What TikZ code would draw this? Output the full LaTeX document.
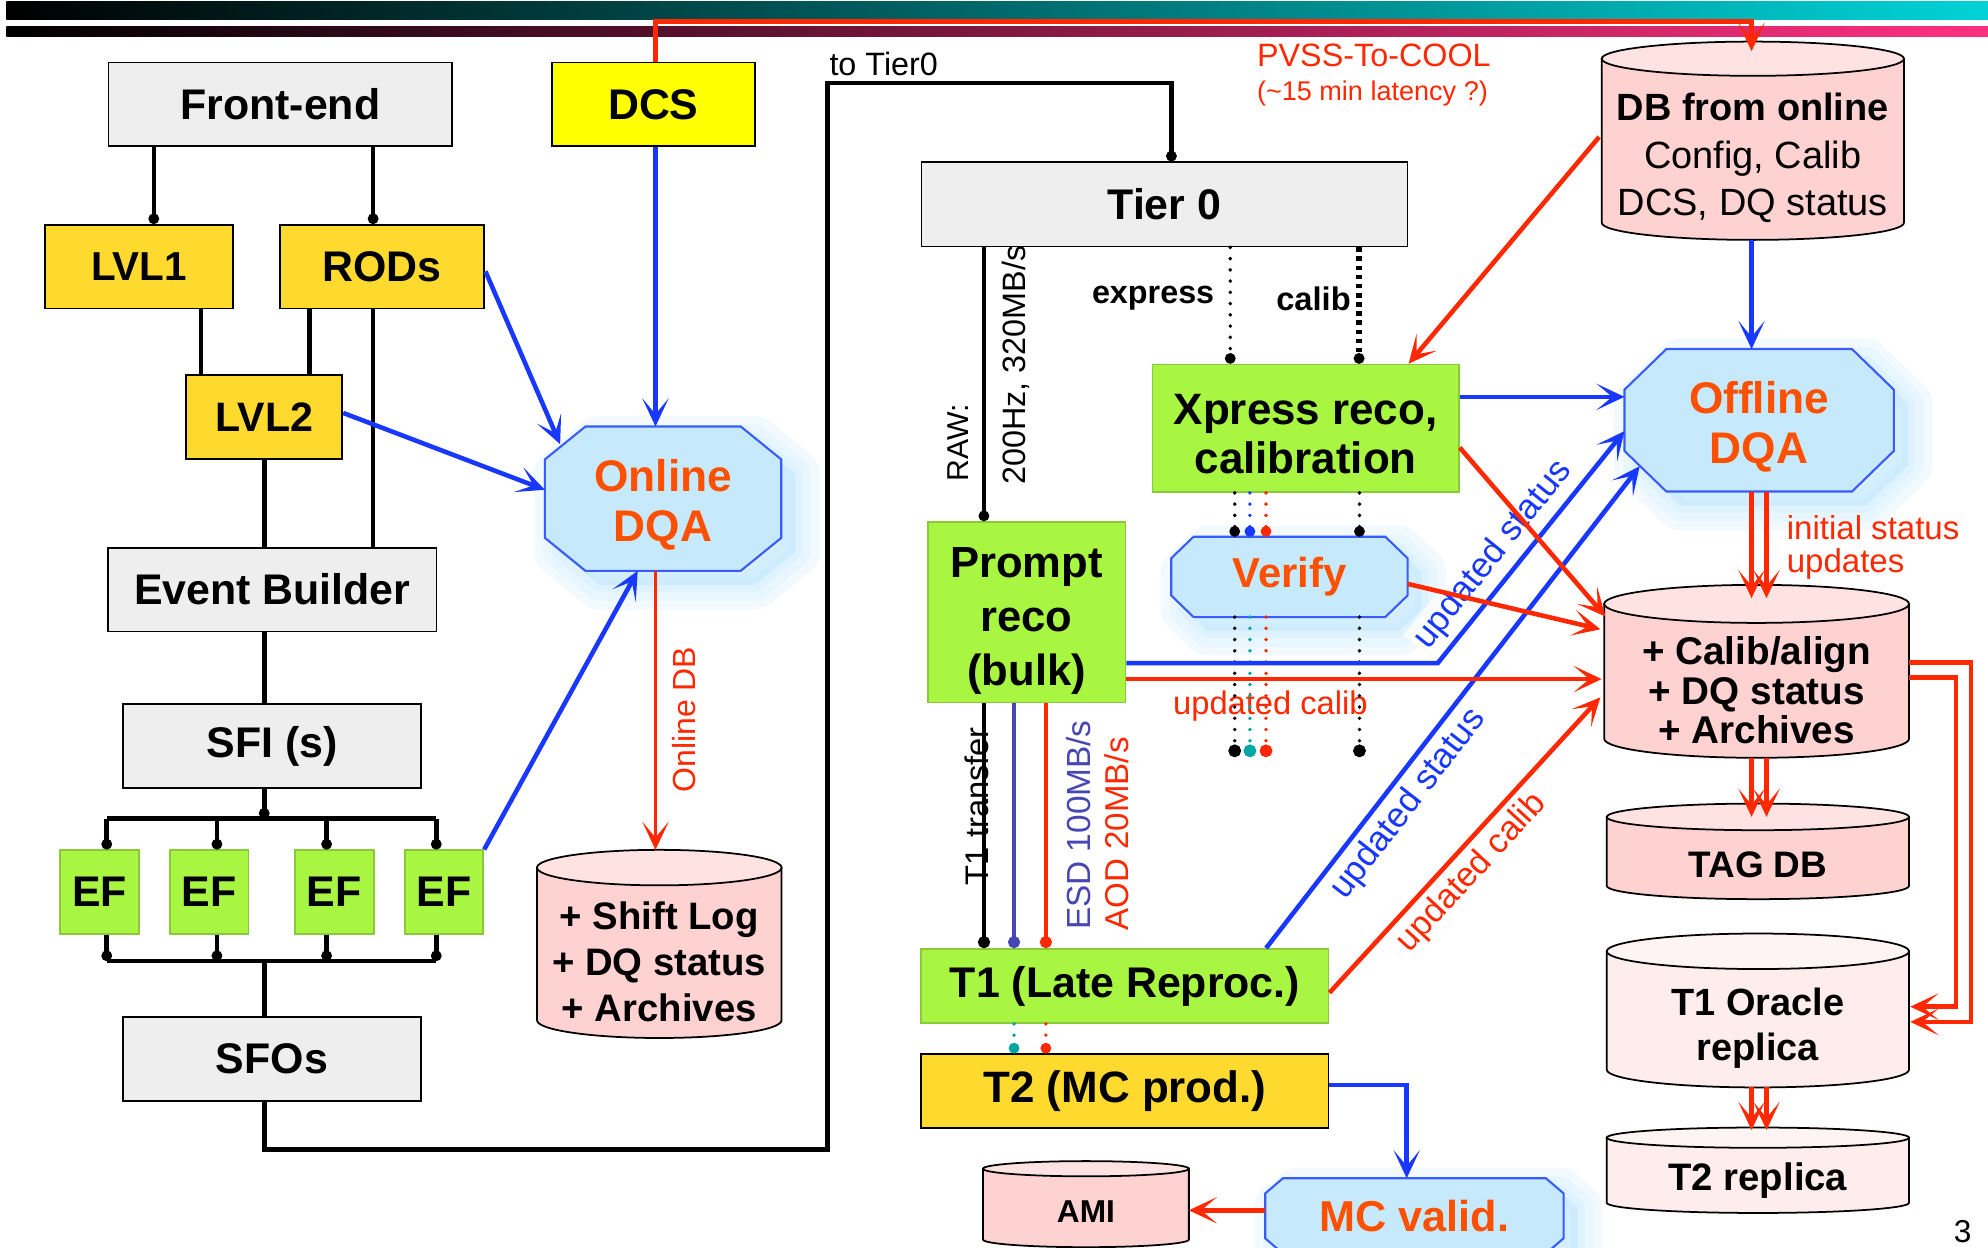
\documentclass[tikz,border=0pt]{standalone}
\usepackage{fontspec}
\setmainfont{Liberation Sans}
\usepackage{tikz}
\usetikzlibrary{arrows.meta}
\usetikzlibrary{calc}
\usepackage{xcolor}
\definecolor{boxGrey}{HTML}{EEEEEE}
\definecolor{boxGold}{HTML}{FFDA2E}
\definecolor{dcsYellow}{HTML}{FFFF00}
\definecolor{boxGreen}{HTML}{A8F542}
\definecolor{greenEdge}{HTML}{8CC83C}
\definecolor{arrowBlue}{HTML}{1838FF}
\definecolor{arrowRed}{HTML}{FF2800}
\definecolor{esdBlue}{HTML}{4646B4}
\definecolor{dotTeal}{HTML}{00A5A5}
\definecolor{dqaOrange}{HTML}{FF5000}
\definecolor{dqaFill}{HTML}{C6EAFC}
\definecolor{dqaEdge}{HTML}{3A5CFF}
\definecolor{dqaGlow}{HTML}{BEE6FF}
\definecolor{dbPink}{HTML}{FFD2D2}
\definecolor{dbLid}{HTML}{FFE2E2}
\definecolor{dbPale}{HTML}{FFEDED}
\definecolor{dbPaleLid}{HTML}{FFF4F4}
\definecolor{barTeal}{HTML}{00D2D6}
\definecolor{barPink}{HTML}{FF3080}

\pgfdeclarelayer{bg}
\pgfsetlayers{bg,main}

% fonts
\newcommand\fntBox{\bfseries\fontsize{12.2}{14}\selectfont}
\newcommand\fntTwo{\bfseries\fontsize{12.5}{14.1}\selectfont}
\newcommand\fntPrompt{\bfseries\fontsize{12.4}{15.3}\selectfont}
\newcommand\fntDqa{\bfseries\fontsize{12.6}{14.2}\selectfont}
\newcommand\fntNote{\fontsize{9.2}{11}\selectfont}
% taller first line, pushes a stacked label down a little
\newcommand\lift[1]{\rule{0pt}{#1}}

\tikzset{
  wh/.style 2 args={minimum width=#1*0.3608pt, minimum height=#2*0.3608pt},
  base/.style={inner sep=0pt, align=center, line width=0.5pt},
  greybox/.style={base, draw=black, fill=boxGrey, font=\fntBox},
  goldbox/.style={base, draw=black, fill=boxGold, font=\fntBox},
  dcsbox/.style={base, draw=black, fill=dcsYellow, font=\fntBox},
  greenbox/.style={base, draw=greenEdge, fill=boxGreen, font=\fntBox},
  dqatext/.style={base, text=dqaOrange, font=\fntDqa},
  dbtext/.style={base, font=\bfseries\fontsize{10.9}{13}\selectfont},
  note/.style={inner sep=1pt, font=\fntNote},
  slopelbl/.style={inner sep=1pt, font=\fontsize{10}{11}\selectfont,
    fill=white, fill opacity=0.75, text opacity=1},
  wire/.style={line width=1.3pt},
  dotend/.style={-{Circle[length=3pt]}},
  blueflow/.style={draw=arrowBlue, line width=1.3pt,
    -{Stealth[length=8pt, width=7.5pt, inset=4.5pt]}},
  redflow/.style={draw=arrowRed, line width=1.3pt,
    -{Stealth[length=8pt, width=7.5pt, inset=4.5pt]}},
  finedots/.style={line width=1.1pt, line cap=round, dash pattern=on 0pt off 3.2pt},
  calibdots/.style={line width=1.5pt, dash pattern=on 1.3pt off 1.3pt},
}

% database drum behind a node: body, bottom arc and lid
\newcommand\dbdrum[4]{%
  \path[draw=black, line width=0.5pt, fill=#2]
    let \p1=(#1.north west), \p2=(#1.south east), \n1={(\x2-\x1)/2}, \n2={#4*0.3608pt} in
    (\x1,\y1+\n2) -- (\x1,\y2+\n2)
    arc[start angle=180, end angle=360, x radius=\n1, y radius=\n2]
    -- (\x2,\y1+\n2) -- cycle;
  \path[draw=black, line width=0.5pt, fill=#3]
    let \p1=(#1.north west), \p2=(#1.south east), \n1={(\x2-\x1)/2}, \n2={#4*0.3608pt} in
    (\x1+\n1,\y1+\n2) ellipse[x radius=\n1, y radius=\n2];
}

% chamfered DQA plate with a soft halo
\newcommand\dqaplate[3]{%
  \path let \p1=(#1.north west), \p2=(#1.south east), \n1={#2*0.3608pt}, \n2={#3*0.3608pt} in
    coordinate (#1-1) at (\x1+\n1,\y1) coordinate (#1-2) at (\x2-\n1,\y1)
    coordinate (#1-3) at (\x2,\y1-\n2) coordinate (#1-4) at (\x2,\y2+\n2)
    coordinate (#1-5) at (\x2-\n1,\y2) coordinate (#1-6) at (\x1+\n1,\y2)
    coordinate (#1-7) at (\x1,\y2+\n2) coordinate (#1-8) at (\x1,\y1-\n2);
  \begin{scope}[transform canvas={shift={(4pt,-4pt)}}]
    \foreach \w in {14,9,4}
      \draw[dqaGlow, line width=\w pt, line join=round, draw opacity=0.2,
        fill=dqaGlow, fill opacity=0.2]
        (#1-1) -- (#1-2) -- (#1-3) -- (#1-4) -- (#1-5) -- (#1-6) -- (#1-7) -- (#1-8) -- cycle;
  \end{scope}
  \draw[draw=dqaEdge, line width=0.6pt, fill=dqaFill]
    (#1-1) -- (#1-2) -- (#1-3) -- (#1-4) -- (#1-5) -- (#1-6) -- (#1-7) -- (#1-8) -- cycle;
}

\begin{document}
\begin{tikzpicture}[x=0.01268cm, y=-0.01268cm]
\useasboundingbox (0,0) rectangle (1568,984);

%%%%%%%%%%%%%%%%%%%%%%%%%%%%%%%%%%%%%%%%%%%%%%%%%%%%%%%%%%%%%% Header bars
\shade[left color=black, right color=barTeal] (5,1.3) rectangle (1568,15.2);
\shade[left color=black, right color=barPink] (5,21) rectangle (1568,29);

%%%%%%%%%%%%%%%%%%%%%%%%%%%%%%%%%%%%%%%%%%%%%%%%%%%%%%%%%%%%%% Online chain
\node[greybox, wh={271}{66}] (frontend) at (221,82.3) {Front-end};
\node[dcsbox, wh={160}{66}] (dcs) at (515.3,82.3) {DCS};
\node[goldbox, wh={148.5}{66}, font=\bfseries\fontsize{11.5}{14}\selectfont] (lvlone) at (109.6,210.4) {LVL1};
\node[goldbox, wh={160.6}{66}] (rods) at (301.2,210.4) {RODs};
\node[goldbox, wh={123}{66.6}, font=\bfseries\fontsize{11.7}{14}\selectfont] (lvltwo) at (208.5,329) {LVL2};
\node[greybox, wh={259}{66}] (evb) at (214.8,465) {Event Builder};
\node[greybox, wh={235}{66.3}] (sfi) at (214.5,588.6) {SFI (s)};
\foreach \x [count=\i] in {78.5,165,263.7,350.2}
  \node[greenbox, wh={62}{66}] (ef\i) at (\x,703.7) {EF};
\node[greybox, wh={235}{66}] (sfos) at (214.5,835.3) {SFOs};

\node[dqatext, wh={185}{112.5}] (onldqa) at (523,393.3) {\lift{12.4pt}Online\\DQA};
\node[dbtext, wh={191.5}{119}] (shiftlog) at (520,758.5) {+ Shift Log\\+ DQ status\\+ Archives};

%%%%%%%%%%%%%%%%%%%%%%%%%%%%%%%%%%%%%%%%%%%%%%%%%%%%%%%%%%%%%% Tier 0 and below
\node[greybox, wh={383.3}{66.4}] (tierzero) at (918.4,161.2) {Tier 0};
\node[greenbox, wh={241.7}{100.5}, font=\fntTwo] (xpress) at (1029.8,337.8) {\lift{12pt}Xpress reco,\\calibration};
\node[greenbox, wh={155.9}{142.3}, font=\fntPrompt] (prompt) at (809.7,482.9) {\lift{13.4pt}Prompt\\reco\\(bulk)};
\node[dqatext, wh={185}{62}, font=\bfseries\fontsize{11.9}{14}\selectfont] (verify) at (1017,455) {Verify};
\node[greenbox, wh={321.2}{58.4}] (tone) at (887.3,777.7) {T1 (Late Reproc.)};
\node[goldbox, wh={321.2}{58}, font=\bfseries\fontsize{12.5}{14}\selectfont] (ttwo) at (887.3,860.6) {T2 (MC prod.)};
\node[dqatext, wh={234}{58}, font=\bfseries\fontsize{12.3}{14}\selectfont] (mcvalid) at (1115.6,959) {MC valid.};
\node[dbtext, wh={161}{54.5}, font=\bfseries\fontsize{9}{11}\selectfont] (ami) at (856.5,955.75) {AMI};

%%%%%%%%%%%%%%%%%%%%%%%%%%%%%%%%%%%%%%%%%%%%%%%%%%%%%%%%%%%%%% Offline databases
\node[dbtext, wh={237}{128}, font=\fontsize{10.8}{13.4}\selectfont] (dbonline) at (1382.5,124.5)
  {\textbf{DB from online}\\Config, Calib\\DCS, DQ status};
\node[dqatext, wh={211}{111}] (offdqa) at (1387.5,331.5) {\lift{12.6pt}Offline\\DQA};
\node[dbtext, wh={239}{105}, font=\bfseries\fontsize{11}{11.2}\selectfont] (calibdb) at (1385.5,544.5)
  {+ Calib/align\\+ DQ status\\+ Archives};
\node[dbtext, wh={237}{53}, font=\bfseries\fontsize{10.5}{12}\selectfont] (tagdb) at (1386.5,682) {TAG DB};
\node[dbtext, wh={237}{92}, font=\bfseries\fontsize{10.8}{12.8}\selectfont] (toracle) at (1386.5,811) {T1 Oracle\\replica};
\node[dbtext, wh={237}{50}] (trep) at (1386.5,931) {T2 replica};

%%%%%%%%%%%%%%%%%%%%%%%%%%%%%%%%%%%%%%%%%%%%%%%%%%%%%%%%%%%%%% Shapes behind the text
\begin{pgfonlayer}{bg}
  \dqaplate{onldqa}{32}{26}
  \dqaplate{verify}{17.6}{17}
  \dqaplate{offdqa}{33}{32}
  \dqaplate{mcvalid}{14}{12}
  \dbdrum{shiftlog}{dbPink}{dbLid}{14}
  \dbdrum{ami}{dbPink}{dbLid}{6}
  \dbdrum{dbonline}{dbPink}{dbLid}{13.5}
  \dbdrum{calibdb}{dbPink}{dbLid}{15}
  \dbdrum{tagdb}{dbPink}{dbLid}{10.5}
  \dbdrum{toracle}{dbPale}{dbPaleLid}{14}
  \dbdrum{trep}{dbPale}{dbPaleLid}{8}
\end{pgfonlayer}

%%%%%%%%%%%%%%%%%%%%%%%%%%%%%%%%%%%%%%%%%%%%%%%%%%%%%%%%%%%%%% Labels
\node[note] (totier) at (697,50.5) {to Tier0};
\node[note, text=arrowRed] (pvss) at (1083.6,43.4) {PVSS-To-COOL};
\node[note, text=arrowRed, font=\fontsize{7.7}{9}\selectfont] (latency) at (1082.5,73.6) {(\textasciitilde15 min latency ?)};
\node[note, rotate=90, text=arrowRed, font=\fontsize{9.1}{11}\selectfont] (onldb) at (539.7,567.5) {Online DB};
\node[note, rotate=90, font=\fontsize{8.6}{10}\selectfont] (rawlbl) at (755.5,349.5) {RAW:};
\node[note, rotate=90] (ratelbl) at (801,288) {200Hz, 320MB/s};
\node[note, rotate=90, font=\fontsize{9.3}{11}\selectfont] (tonelbl) at (770.5,635.8) {T1 transfer};
\node[note, rotate=90, text=esdBlue, font=\fontsize{9.5}{11}\selectfont] (esdlbl) at (850.7,650.8) {ESD 100MB/s};
\node[note, rotate=90, text=arrowRed, font=\fontsize{9.4}{11}\selectfont] (aodlbl) at (880.6,657.6) {AOD 20MB/s};
\node[note, font=\bfseries\fontsize{9.2}{11}\selectfont] (expresslbl) at (909.5,235) {express};
\node[note, font=\bfseries\fontsize{9.3}{11}\selectfont] (caliblbl) at (1036,236) {calib};
\node[note, text=arrowRed, font=\fontsize{9.3}{11}\selectfont, fill=white, fill opacity=0.7, text opacity=1]
  (updcalib) at (1002,557) {updated calib};
\node[note, text=arrowRed, align=left, anchor=west, font=\fontsize{9.4}{9.4}\selectfont]
  (initlbl) at (1406,432) {initial status\\updates};
\node[note, font=\fontsize{9}{11}\selectfont] (pagenum) at (1548,971.6) {3};

%%%%%%%%%%%%%%%%%%%%%%%%%%%%%%%%%%%%%%%%%%%%%%%%%%%%%%%%%%%%%% Trigger and DAQ wiring
\coordinate (spine) at (208.4,0);
\coordinate (bustop) at (208.4,645.6);
\coordinate (busbot) at (208.4,758);
\foreach \x [count=\i] in {84.2,171.1,257.6,344.1} {
  \coordinate (drop\i) at (\x,645.6);
  \coordinate (bdrop\i) at (\x,758);
}
\draw[wire, dotend] ($(frontend.south west)+(36.5,0)$) coordinate (a) -- (a |- lvlone.north);
\draw[wire, dotend] ($(frontend.south west)+(209.5,0)$) coordinate (a) -- (a |- rods.north);
\draw[wire] ($(lvlone.south west)+(124,0)$) coordinate (a) -- (a |- lvltwo.north);
\draw[wire] ($(rods.south west)+(24.1,0)$) coordinate (a) -- (a |- lvltwo.north);
\draw[wire] ($(rods.south west)+(74.1,0)$) coordinate (a) -- (a |- evb.north);
\draw[wire] (spine |- lvltwo.south) -- (spine |- evb.north);
\draw[wire] (spine |- evb.south) -- (spine |- sfi.north);
\draw[wire, dotend] (spine |- sfi.south) -- (bustop);
\draw[wire] (drop1) -- (drop4);
\draw[wire] (bdrop1) -- (bdrop4);
\foreach \i in {1,...,4} {
  \draw[wire, dotend] (drop\i) -- (drop\i |- ef\i.north);
  \draw[wire, dotend] (bdrop\i |- ef\i.south) -- (bdrop\i);
}
\draw[wire] (busbot) -- (spine |- sfos.north);

% SFOs out to Tier 0
\coordinate (tzcorner) at (652.8,65.5);
\draw[wire, dotend] (spine |- sfos.south) -- ++(0,37.7) -| (tzcorner)
  -| ($(tierzero.north west)+(197.9,0)$);

%%%%%%%%%%%%%%%%%%%%%%%%%%%%%%%%%%%%%%%%%%%%%%%%%%%%%%%%%%%%%% Online DQA
\coordinate (dbx) at (517,0);
\coordinate (pvssbend) at (517,16.6);
\draw[blueflow] (dbx |- dcs.south) -- (dbx |- onldqa.north);
\draw[blueflow] ($(rods.east)+(0.7,3.6)$) -- ($(onldqa.north west)+(12,14)$);
\draw[blueflow] ($(lvltwo.east)+(0,-3.3)$) -- ($(onldqa.west)+(0,-7)$);
\draw[blueflow] (ef4.north east) -- ($(onldqa.south)+(-20,0)$);
\draw[redflow, line width=1.1pt] (dbx |- onldqa.south) -- ($(dbx |- shiftlog.north)+(0,-28)$);
\draw[redflow, line width=1.4pt] (dbx |- dcs.north) -- (pvssbend) -| ($(dbonline.north)+(-1,-19.5)$);

%%%%%%%%%%%%%%%%%%%%%%%%%%%%%%%%%%%%%%%%%%%%%%%%%%%%%%%%%%%%%% Tier 0 streams
\draw[wire, dotend] ($(tierzero.south west)+(50,0)$) coordinate (a) -- (a |- prompt.north);
\draw[finedots, dotend] ($(tierzero.south west)+(244.3,0)$) coordinate (a) -- (a |- xpress.north);
\draw[calibdots, dotend] ($(tierzero.south west)+(345.9,0)$) coordinate (a) -- (a |- xpress.north);

% express / calib results through Verify
\foreach \dx/\col in {65.6/black, 77.6/arrowBlue, 90.3/arrowRed, 164/black}
  \draw[finedots, \col, dotend] ($(xpress.south west)+(\dx,0)$) coordinate (a) -- (a |- verify.north);
\foreach \dx/\col in {65.6/black, 77.6/dotTeal, 90.3/arrowRed, 164/black}
  \draw[finedots, \col, -{Circle[length=3.6pt]}] ($(xpress.south west)+(\dx,0)$) coordinate (a)
    ($(a |- verify.south)$) -- ++(0,110.5);

% prompt reco to T1, T1 to T2
\foreach \dx/\col in {45.05/black, 68.75/esdBlue, 93.85/arrowRed}
  \draw[wire, line width=1.2pt, \col, -{Circle[length=3.4pt]}] ($(prompt.south west)+(\dx,0)$) coordinate (a) -- (a |- tone.north);
\foreach \dx/\col in {68.75/dotTeal, 93.85/arrowRed}
  \draw[finedots, \col, -{Circle[length=3pt]}] ($(prompt.south west)+(\dx,0)$) coordinate (a)
    (a |- tone.south) -- (a |- ttwo.north);

%%%%%%%%%%%%%%%%%%%%%%%%%%%%%%%%%%%%%%%%%%%%%%%%%%%%%%%%%%%%%% Offline DQA and conditions
\coordinate (statusbend) at (1134,523);
\draw[blueflow] ($(dbonline.south)+(-1,0)$) -- ($(offdqa.north)+(-6,0)$);
\draw[blueflow] ($(xpress.east)+(0,-24.8)$) coordinate (a) -- (a -| offdqa.west);
\draw[blueflow] ($(prompt.east)+(0,40.1)$) -- (statusbend) -- ($(offdqa.west)+(0,8.5)$)
  node[slopelbl, text=arrowBlue, pos=0.40, above=0.7pt, sloped] (updstatone) {updated status};
\draw[blueflow] ($(tone.north)+(111.3,0)$) -- ($(offdqa.south west)+(12,-20)$)
  node[slopelbl, text=arrowBlue, pos=0.33, below=0.7pt, sloped] (updstattwo) {updated status};

\draw[redflow] ($(dbonline.west)+(-2,-16.5)$) -- ($(xpress.north)+(81.2,0)$);
\draw[redflow] ($(xpress.east)+(0,15.2)$) -- ($(calibdb.north west)+(1,-5)$);
\draw[redflow] ($(verify.east)+(0,5.5)$) -- ($(calibdb.north west)+(-3,5)$);
\draw[redflow] ($(prompt.east)+(0,52.7)$) coordinate (a) -- ($(a -| calibdb.west)+(-2,0)$);
\draw[redflow] ($(tone.east)+(0,5.3)$) -- ($(calibdb.west)+(-3,5.5)$)
  node[slopelbl, text=arrowRed, font=\fontsize{9.7}{11}\selectfont, pos=0.46, below=0.7pt, sloped]
  (updcalibtwo) {updated calib};

% paired replication arrows
\foreach \dx in {-6,5.8}
  \draw[redflow] ($(offdqa.south)+(\dx,0)$) coordinate (a) -- ($(a |- calibdb.north)+(0,-19.5)$);
\foreach \dx in {-4,7.8}
  \draw[redflow] ($(calibdb.south)+(\dx,0)$) coordinate (a) -- ($(a |- tagdb.north)+(0,-10.5)$);
\foreach \dx in {-5,6.8}
  \draw[redflow] ($(toracle.south)+(\dx,0)$) coordinate (a) -- ($(a |- trep.north)+(0,-14)$);
\draw[redflow] ($(calibdb.east)+(0,-21.8)$) -| ($(toracle.east)+(49,-5)$) -- ($(toracle.east)+(1,-5)$);
\draw[redflow] ($(calibdb.east)+(0,-10)$) -| ($(toracle.east)+(37,-17)$) -- ($(toracle.east)+(1,-17)$);

%%%%%%%%%%%%%%%%%%%%%%%%%%%%%%%%%%%%%%%%%%%%%%%%%%%%%%%%%%%%%% MC chain
\draw[blueflow] ($(ttwo.east)+(0,-4.9)$) -| ($(mcvalid.north)+(-6.1,0)$);
\draw[redflow] ($(mcvalid.west)+(0,-4.4)$) coordinate (a) -- (a -| ami.east);

\end{tikzpicture}
\end{document}
